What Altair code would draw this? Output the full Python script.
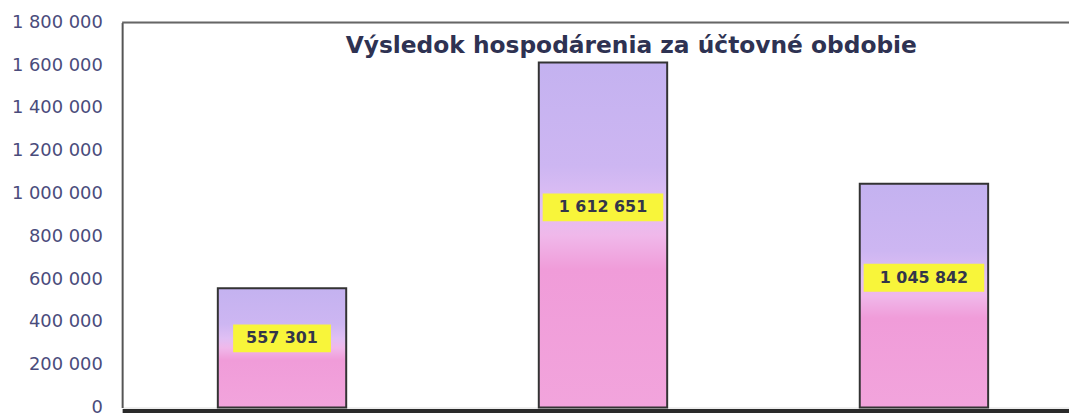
import altair as alt
import pandas as pd

# --- data ---
periods = ["Obdobie 1", "Obdobie 2", "Obdobie 3"]
values = [557301, 1612651, 1045842]
labels = ["557 301", "1 612 651", "1 045 842"]
y_ticks = [0, 200000, 400000, 600000, 800000, 1000000, 1200000, 1400000, 1600000, 1800000]
title_text = "Výsledok hospodárenia za účtovné obdobie"

df = pd.DataFrame({"obdobie": periods, "hodnota": values, "popis": labels})

FONT = "DejaVu Sans"

x_enc = alt.X(
    "obdobie:N",
    sort=None,
    scale=alt.Scale(paddingInner=0.6, paddingOuter=0.275, align=0.542),
    axis=alt.Axis(labels=False, ticks=False, title=None, domainColor="#2a2a2a",
                  domainWidth=4, offset=3),
)
y_scale = alt.Scale(domain=[0, 1800000], nice=False)

base = alt.Chart(df).encode(x=x_enc)

bars = base.mark_bar(
    fill=alt.Gradient(
        gradient="linear", x1=0, y1=0, x2=0, y2=1,
        stops=[
            alt.GradientStop(offset=0, color="#c4b2f0"),
            alt.GradientStop(offset=0.3, color="#cdb6f2"),
            alt.GradientStop(offset=0.42, color="#e0bff4"),
            alt.GradientStop(offset=0.5, color="#f0b8ea"),
            alt.GradientStop(offset=0.6, color="#f09cd9"),
            alt.GradientStop(offset=1, color="#f2a4dc"),
        ],
    ),
    stroke="#333333", strokeWidth=2,
).encode(
    y=alt.Y(
        "hodnota:Q", scale=y_scale,
        axis=alt.Axis(
            values=y_ticks, title=None, grid=False, ticks=False,
            labelExpr="replace(format(datum.value, ','), /,/g, ' ')",
            labelColor="#4a4c7c", labelFontSize=18, labelFont=FONT,
            labelPadding=20, domainColor="#555555", domainWidth=2,
        ),
    )
)

lab = base.transform_calculate(
    pos="datum.hodnota * 0.58",
    w="length(datum.popis) * 11.5 + 18",
).transform_calculate(
    shp="'M-1,-' + (14 / (datum.w / 2)) + 'H1V' + (14 / (datum.w / 2)) + 'H-1Z'",
    sz="datum.w * datum.w",
)

boxes = lab.mark_point(filled=True, color="#f8f53a", opacity=1, strokeWidth=0).encode(
    y=alt.Y("pos:Q", scale=y_scale),
    shape=alt.Shape("shp:N", scale=None),
    size=alt.Size("sz:Q", scale=None),
)

texts = lab.mark_text(fontWeight="bold", fontSize=16, font=FONT, color="#33354a").encode(
    y=alt.Y("pos:Q", scale=y_scale),
    text="popis:N",
)

top_rule = alt.Chart(pd.DataFrame({"v": [1800000]})).mark_rule(
    color="#666666", strokeWidth=2
).encode(y=alt.Y("v:Q", scale=y_scale))

title = alt.Chart(pd.DataFrame({"t": [title_text]})).mark_text(
    fontWeight="bold", fontSize=23.5, font=FONT, color="#2e3252", align="center", baseline="middle"
).encode(text="t:N", x=alt.value(513), y=alt.value(24))

chart = alt.layer(bars, boxes, texts, top_rule, title).properties(
    width=954, height=388,
    padding={"left": 115, "top": 13, "right": 0, "bottom": 7},
    autosize=alt.AutoSizeParams(type="none"),
).configure_view(stroke=None).configure(background="white")

chart.save("out.html", embed_options={"renderer": "svg", "actions": False})
